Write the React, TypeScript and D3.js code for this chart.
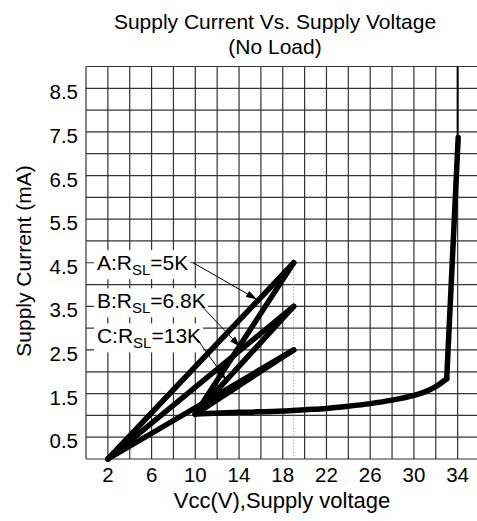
import React, { useEffect, useRef } from "react";
import * as d3 from "d3";

// ---- data ----
const xTicks = [2, 6, 10, 14, 18, 22, 26, 30, 34];
const yTicks = [0.5, 1.5, 2.5, 3.5, 4.5, 5.5, 6.5, 7.5, 8.5];
const seriesNames = ["A", "B", "C"];
const seriesR = ["5K", "6.8K", "13K"];
const rampStartV = 2;
const rampStartI = 0;
const peakV = 19;
const peakI = [4.5, 3.5, 2.5];
const foldV = 10;
const foldI = 1.03;
const mainV = [10, 14, 18, 20, 22, 24, 26, 28, 30, 31, 32, 33];
const mainI = [1.03, 1.07, 1.1, 1.13, 1.16, 1.21, 1.27, 1.35, 1.46, 1.54, 1.66, 1.84];
const breakdownV = [33, 34.05];
const breakdownI = [1.84, 7.37];
// annotation anchors (data coordinates)
const labelV = 1.0;
const labelI = [4.33, 3.455, 2.65];
const arrowFrom = [[9.8, 4.5], [10.65, 3.49], [10.2, 2.74]];
const arrowTo = [[15.64, 3.66], [14.09, 2.575], [12.8, 1.82]];

const W = 477;
const H = 521;
const FONT = "'Liberation Sans', Arial, Helvetica, sans-serif";

export default function App() {
  const ref = useRef<SVGSVGElement | null>(null);

  useEffect(() => {
    const svg = d3.select(ref.current);
    svg.selectAll("*").remove();

    const x = d3.scaleLinear().domain([0, 36]).range([86, 479.5]);
    const y = d3.scaleLinear().domain([0, 9]).range([459, 66.5]);

    const defs = svg.append("defs");
    defs
      .append("marker")
      .attr("id", "arr")
      .attr("markerUnits", "userSpaceOnUse")
      .attr("markerWidth", 11)
      .attr("markerHeight", 7)
      .attr("refX", 11)
      .attr("refY", 3.5)
      .attr("orient", "auto")
      .append("path")
      .attr("d", "M0,0 L11,3.5 L0,7 z")
      .attr("fill", "#000");

    svg.append("rect").attr("width", W).attr("height", H).attr("fill", "#fff");

    // grid
    const g = svg.append("g");
    g.selectAll("line.v")
      .data(d3.range(0, 36.01, 2))
      .join("line")
      .attr("x1", (d) => x(d))
      .attr("x2", (d) => x(d))
      .attr("y1", y(0))
      .attr("y2", y(9))
      .attr("stroke", "#333")
      .attr("stroke-width", 1.2);
    g.selectAll("line.h")
      .data(d3.range(0, 9.01, 0.5))
      .join("line")
      .attr("x1", x(0))
      .attr("x2", x(36))
      .attr("y1", (d) => y(d))
      .attr("y2", (d) => y(d))
      .attr("stroke", "#333")
      .attr("stroke-width", 1.2);

    // dotted line at peak voltage
    svg
      .append("line")
      .attr("x1", x(peakV))
      .attr("x2", x(peakV))
      .attr("y1", y(d3.max(peakI)!))
      .attr("y2", y(0))
      .attr("stroke", "#888")
      .attr("stroke-width", 1)
      .attr("stroke-dasharray", "1,2");

    // asymptote line at 34 V
    svg
      .append("line")
      .attr("x1", x(34))
      .attr("x2", x(34))
      .attr("y1", y(9))
      .attr("y2", y(breakdownI[1]))
      .attr("stroke", "#000")
      .attr("stroke-width", 2);

    // curves
    const line = d3
      .line<[number, number]>()
      .x((d) => x(d[0]))
      .y((d) => y(d[1]));
    const curves = svg.append("g").attr("fill", "none").attr("stroke", "#000")
      .attr("stroke-width", 5.5).attr("stroke-linecap", "round").attr("stroke-linejoin", "round");
    peakI.forEach((p) => {
      curves.append("path").attr("d", line([[rampStartV, rampStartI], [peakV, p]]));
      curves.append("path").attr("d", line([[peakV, p], [foldV, foldI]]));
    });
    const smooth = d3
      .line<[number, number]>()
      .x((d) => x(d[0]))
      .y((d) => y(d[1]))
      .curve(d3.curveMonotoneX);
    curves.append("path").attr("d", smooth(mainV.map((v, i) => [v, mainI[i]] as [number, number])));
    curves.append("path").attr("d", line(breakdownV.map((v, i) => [v, breakdownI[i]] as [number, number])));

    // annotations
    seriesNames.forEach((n, i) => {
      const ag = svg.append("g");
      const bg = ag.append("rect").attr("fill", "#fff");
      const t = ag
        .append("text")
        .attr("x", x(labelV))
        .attr("y", y(labelI[i]))
        .attr("font-family", FONT)
        .attr("font-size", 21)
        .attr("fill", "#000");
      t.append("tspan").text(n + ":R");
      t.append("tspan").attr("font-size", 15).attr("dy", 5).text("SL");
      t.append("tspan").attr("dy", -5).text("=" + seriesR[i]);
      const bb = (t.node() as SVGTextElement).getBBox();
      bg.attr("x", bb.x - 3).attr("y", bb.y - 1).attr("width", bb.width + 5).attr("height", bb.height + 2);
      svg
        .append("line")
        .attr("x1", x(arrowFrom[i][0]))
        .attr("y1", y(arrowFrom[i][1]))
        .attr("x2", x(arrowTo[i][0]))
        .attr("y2", y(arrowTo[i][1]))
        .attr("stroke", "#000")
        .attr("stroke-width", 1)
        .attr("marker-end", "url(#arr)");
    });

    // tick labels
    svg
      .append("g")
      .selectAll("text")
      .data(xTicks)
      .join("text")
      .attr("x", (d) => x(d))
      .attr("y", y(0) + 23)
      .attr("text-anchor", "middle")
      .attr("font-family", FONT)
      .attr("font-size", 20.5)
      .text((d) => String(d));
    svg
      .append("g")
      .selectAll("text")
      .data(yTicks)
      .join("text")
      .attr("x", 78)
      .attr("y", (d) => y(d) + 11)
      .attr("text-anchor", "end")
      .attr("font-family", FONT)
      .attr("font-size", 20.5)
      .text((d) => d.toFixed(1));

    // titles
    svg.append("text").attr("x", 275).attr("y", 29).attr("text-anchor", "middle")
      .attr("font-family", FONT).attr("font-size", 21).text("Supply Current Vs. Supply Voltage");
    svg.append("text").attr("x", 275).attr("y", 54).attr("text-anchor", "middle")
      .attr("font-family", FONT).attr("font-size", 21).text("(No Load)");
    svg.append("text").attr("x", 282).attr("y", 508).attr("text-anchor", "middle")
      .attr("font-family", FONT).attr("font-size", 22).text("Vcc(V),Supply voltage");
    svg.append("text").attr("transform", "translate(31,261) rotate(-90)").attr("text-anchor", "middle")
      .attr("font-family", FONT).attr("font-size", 21).text("Supply Current (mA)");
  }, []);

  return (
    <svg
      ref={ref}
      width={W}
      height={H}
      style={{ position: "absolute", left: 0, top: 0, display: "block" }}
    />
  );
}
